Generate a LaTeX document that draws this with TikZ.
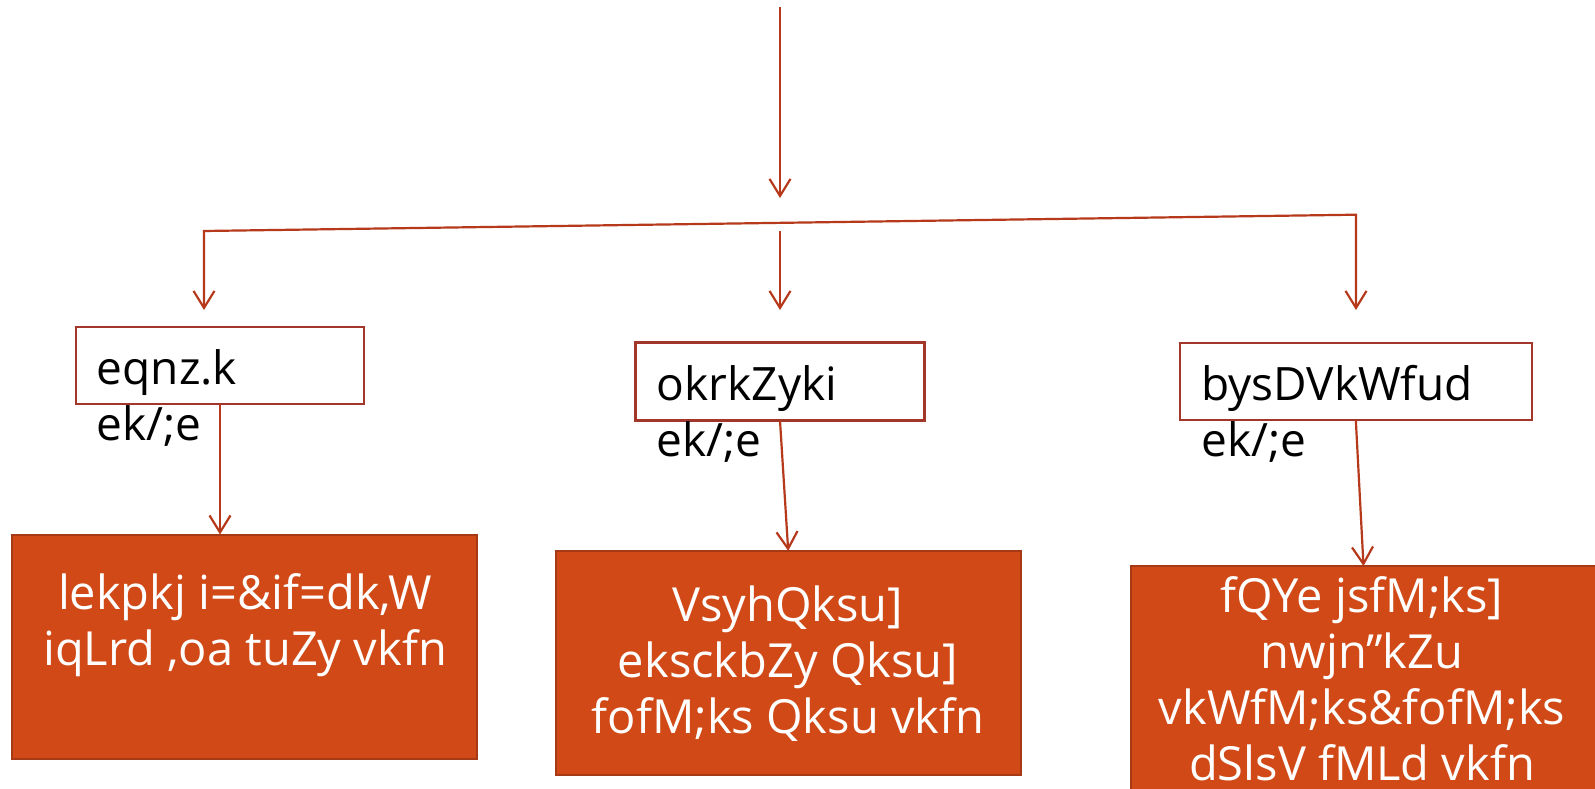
\documentclass[tikz,border=0pt]{standalone}
\usepackage{fontspec}
\setmainfont{Open Sans}
\usetikzlibrary{arrows.meta}
\definecolor{lineC}{HTML}{B5391A}
\definecolor{boxEdge}{HTML}{A3362B}
\definecolor{fillO}{HTML}{D14917}
\definecolor{fillEdge}{HTML}{A63A17}
\tikzset{
  myb/.tip={Straight Barb[length=17pt,width=21pt,line width=2.2pt]},
  conn/.style={draw=lineC, line width=2.2pt, -myb},
  wbox/.style={draw=boxEdge, line width=2.5pt, fill=white, inner sep=0pt, outer sep=0pt},
  obox/.style={draw=fillEdge, line width=2pt, fill=fillO, inner sep=0pt, outer sep=0pt, minimum width=465pt, minimum height=224pt},
  btext/.style={text=black, inner sep=0pt, align=left, font=\fontsize{46}{56}\selectfont},
  wtext/.style={text=white, inner sep=0pt, align=center, font=\fontsize{47}{56}\selectfont}
}
\begin{document}
\begin{tikzpicture}[x=1pt,y=-1pt]
\useasboundingbox (0,0) rectangle (1595,789);
\clip (0,0) rectangle (1595,789);
% white boxes
\node[wbox, minimum width=288pt, minimum height=77pt] (b1) at (220,365.3) {};
\node[wbox, minimum width=288.6pt, minimum height=78.4pt] (b2) at (780,381.5) {};
\node[wbox, minimum width=352pt, minimum height=77pt] (b3) at (1355.8,381.3) {};
% (base anchor = baseline of the last line)
\node[btext, anchor=base west] (t1) at (96.7,440) {eqnz.k\\ek/;e};
\node[btext, anchor=base west] (t2) at (656.7,456) {okrkZyki\\ek/;e};
\node[btext, anchor=base west] (t3) at (1201,456.5) {bysDVkWfud\\ek/;e};
% orange boxes
\node[obox] (o1) at (244.2,646.5) {};
\node[obox] (o2) at (788.2,662.8) {};
\node[obox] (o3) at (1363.5,678) {};
\node[wtext, anchor=base] (w1) at (245,665) {lekpkj i=\&if=dk,W\\iqLrd ,oa tuZy vkfn};
\node[wtext, anchor=base] (w2) at (788,733.3) {VsyhQksu]\\eksckbZy Qksu]\\fofM;ks Qksu vkfn};
\node[wtext, anchor=base] (w3) at (1362,780.7) {fQYe jsfM;ks]\\nwjn”kZu\\vkWfM;ks\&fofM;ks\\dSlsV fMLd vkfn};
% branch coordinates
\coordinate (top) at (780,7);
\coordinate (split) at (780,198);
\coordinate (hl) at (204,231);
\coordinate (hr) at (1356,214.7);
\coordinate (l1) at (204,310);
\coordinate (r1) at (1356,310);
\coordinate (m1) at (780,231);
\coordinate (m2) at (780,310);
% connectors
\draw[conn] (top) -- (split);
\draw[conn, myb-myb] (l1) -- (hl) -- (hr) -- (r1);
\draw[conn] (m1) -- (m2);
\draw[conn] (b1.south) -- (b1.south |- o1.north);
\draw[conn] (b2.south) -- (o2.north);
\draw[conn] (b3.south) -- (o3.north);
\end{tikzpicture}
\end{document}
